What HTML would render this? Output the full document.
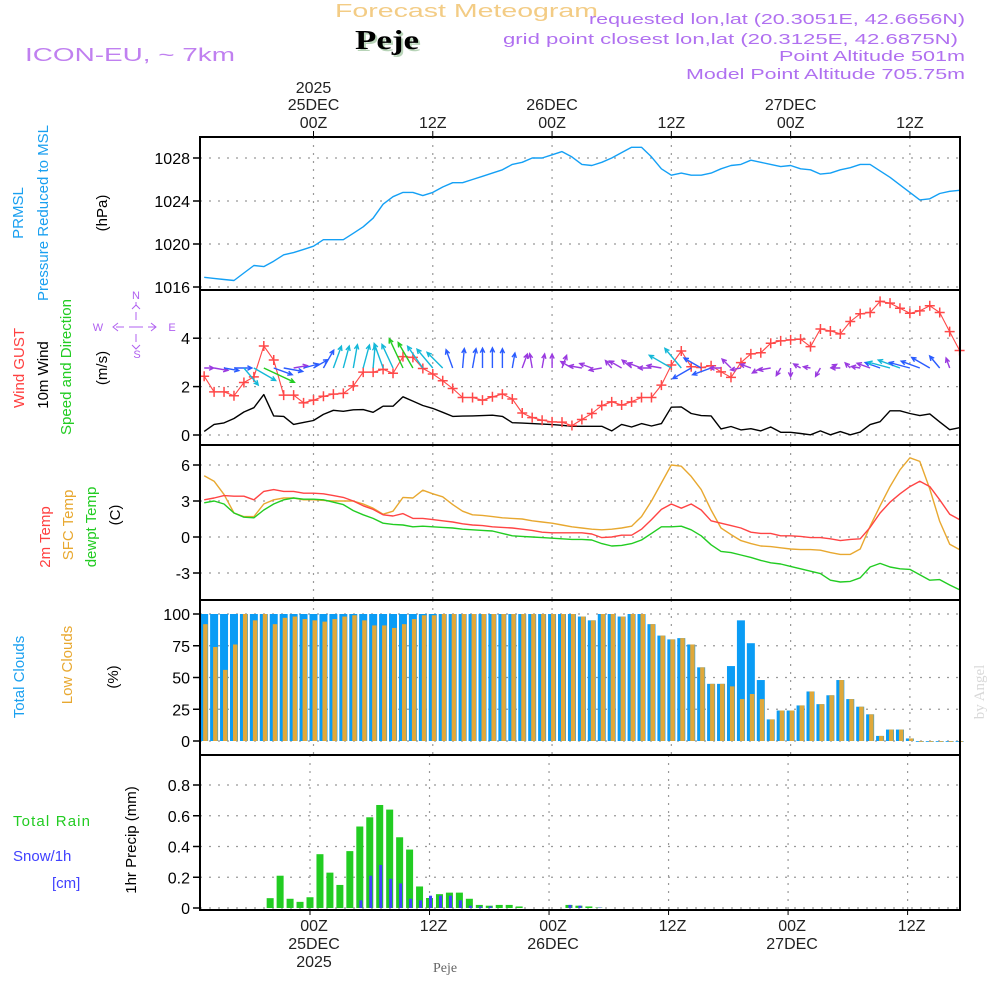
<!DOCTYPE html>
<html><head><meta charset="utf-8"><title>Forecast Meteogram Peje</title>
<style>
html,body{margin:0;padding:0;background:#fff;}
svg{display:block;font-family:"Liberation Sans",sans-serif;}
</style></head>
<body>
<svg id="chart" xmlns="http://www.w3.org/2000/svg" width="1000" height="1000" viewBox="0 0 1000 1000">
  <defs>
    <clipPath id="windClip"><rect x="201" y="291" width="758" height="153"/></clipPath>
  </defs>
  <g>
    <text x="335" y="17" font-size="18" fill="#f3cc85" textLength="263" lengthAdjust="spacingAndGlyphs">Forecast Meteogram</text>
    <text x="357" y="51" font-size="27" font-weight="bold" font-family="Liberation Serif,serif" fill="#b8d4b8" textLength="64" lengthAdjust="spacingAndGlyphs">Peje</text>
    <text x="355" y="49" font-size="27" font-weight="bold" font-family="Liberation Serif,serif" fill="#000" textLength="64" lengthAdjust="spacingAndGlyphs">Peje</text>
    <text x="25" y="61" font-size="18" fill="#c080f0" textLength="210" lengthAdjust="spacingAndGlyphs">ICON-EU, ~ 7km</text>
    <text x="589" y="24" font-size="15" fill="#b070f0" textLength="376" lengthAdjust="spacingAndGlyphs">requested lon,lat (20.3051E, 42.6656N)</text>
    <text x="503" y="44" font-size="15" fill="#b070f0" textLength="455" lengthAdjust="spacingAndGlyphs">grid point closest lon,lat (20.3125E, 42.6875N)</text>
    <text x="779" y="61" font-size="15" fill="#b070f0" textLength="186" lengthAdjust="spacingAndGlyphs">Point Altitude 501m</text>
    <text x="686" y="79" font-size="15" fill="#b070f0" textLength="279" lengthAdjust="spacingAndGlyphs">Model Point Altitude 705.75m</text>
    <text transform="translate(984,692) rotate(-90)" text-anchor="middle" font-size="15" font-family="Liberation Serif,serif" fill="#d8d8d8">by Angel</text>
    <text x="445" y="972" text-anchor="middle" font-size="14" font-family="Liberation Serif,serif" fill="#666">Peje</text>
  </g>
  <g font-size="15">
    <text transform="translate(23,213) rotate(-90)" text-anchor="middle" fill="#1aa0f0">PRMSL</text>
    <text transform="translate(48,213) rotate(-90)" text-anchor="middle" fill="#1aa0f0">Pressure Reduced to MSL</text>
    <text transform="translate(107,213) rotate(-90)" text-anchor="middle" fill="#000">(hPa)</text>
    <text transform="translate(24,368) rotate(-90)" text-anchor="middle" fill="#ff4040">Wind GUST</text>
    <text transform="translate(48,375) rotate(-90)" text-anchor="middle" fill="#000">10m Wind</text>
    <text transform="translate(71,367) rotate(-90)" text-anchor="middle" fill="#22cc22">Speed and Direction</text>
    <text transform="translate(107,368) rotate(-90)" text-anchor="middle" fill="#000">(m/s)</text>
    <text transform="translate(50,537) rotate(-90)" text-anchor="middle" fill="#ff4040">2m Temp</text>
    <text transform="translate(73,525) rotate(-90)" text-anchor="middle" fill="#e8a830">SFC Temp</text>
    <text transform="translate(96,527) rotate(-90)" text-anchor="middle" fill="#22cc22">dewpt Temp</text>
    <text transform="translate(120,515) rotate(-90)" text-anchor="middle" fill="#000">(C)</text>
    <text transform="translate(24,677) rotate(-90)" text-anchor="middle" fill="#1aa0f0">Total Clouds</text>
    <text transform="translate(72,665) rotate(-90)" text-anchor="middle" fill="#e8a830">Low Clouds</text>
    <text transform="translate(118,677) rotate(-90)" text-anchor="middle" fill="#000">(%)</text>
    <text transform="translate(136,840) rotate(-90)" text-anchor="middle" fill="#000">1hr Precip (mm)</text>
    <text x="13" y="826" fill="#22cc22" textLength="77" lengthAdjust="spacing">Total   Rain</text>
    <text x="13" y="861" fill="#4040ff">Snow/1h</text>
    <text x="52" y="888" fill="#4040ff">[cm]</text>
  </g>
  <g fill="#b060f0" font-size="11" text-anchor="middle">
    <text x="136" y="299">N</text>
    <text x="98" y="331">W</text>
    <text x="172" y="331">E</text>
    <text x="137" y="358">S</text>
    <path d="M118,323 L113,327 L118,331 M116,327 H124 M129,327 H143 M148,327 H156 M151,323 L156,327 L151,331 M136,302 V306 M132,309 L136,305 L140,309 M136,312 V320 M136,334 V342 M132,345 L136,349 L140,345" stroke="#b060f0" stroke-width="1" fill="none"/>
  </g>
  <g id="plots"></g>
</svg>
<script>
// ===== DATA (hourly, from hour -11 = 13Z 24DEC to hour 65 = 17Z 27DEC) =====
const startHour = -11;
const pressure = [1016.9,1016.8,1016.7,1016.6,1017.3,1018.0,1017.9,1018.4,1019.0,1019.2,1019.5,1019.8,1020.4,1020.4,1020.4,1021.0,1021.6,1022.4,1023.7,1024.4,1024.8,1024.8,1024.5,1024.8,1025.3,1025.7,1025.7,1026.0,1026.3,1026.6,1026.9,1027.4,1027.6,1028.0,1028.0,1028.3,1028.6,1028.1,1027.4,1027.3,1027.6,1028.0,1028.5,1029.0,1029.0,1028.1,1027.0,1026.4,1026.6,1026.4,1026.4,1026.6,1027.0,1027.3,1027.4,1027.8,1027.6,1027.4,1027.2,1027.3,1027.0,1026.9,1026.5,1026.6,1026.9,1027.1,1027.4,1027.4,1026.8,1026.2,1025.5,1024.8,1024.1,1024.2,1024.7,1024.9,1025.0];
const wind10 = [0.15,0.44,0.5,0.68,0.95,1.13,1.67,0.79,0.77,0.44,0.52,0.6,0.85,1.02,0.98,1.04,1.05,0.94,1.19,1.19,1.58,1.4,1.22,1.1,0.94,0.77,0.78,0.79,0.8,0.82,0.77,0.51,0.49,0.47,0.45,0.43,0.4,0.36,0.36,0.36,0.36,0.17,0.44,0.33,0.47,0.37,0.47,1.15,1.16,0.89,0.8,0.79,0.25,0.35,0.21,0.26,0.17,0.33,0.11,0.11,0.06,0.01,0.17,0.01,0.14,0.01,0.12,0.43,0.55,1.0,1.0,0.89,0.8,0.87,0.54,0.22,0.3];
const gust = [2.43,1.78,1.78,1.62,2.17,2.4,3.68,3.1,1.65,1.65,1.33,1.44,1.6,1.69,1.72,2.03,2.6,2.6,2.71,2.55,3.24,3.21,2.75,2.52,2.24,1.92,1.55,1.55,1.44,1.58,1.69,1.49,0.91,0.72,0.61,0.54,0.53,0.39,0.64,0.89,1.22,1.37,1.24,1.37,1.55,1.55,2.06,2.89,3.47,2.82,2.79,2.86,2.61,2.38,2.99,3.35,3.4,3.79,3.89,3.93,3.96,3.65,4.38,4.3,4.18,4.69,5.01,5.06,5.52,5.45,5.24,5.03,5.13,5.34,5.06,4.27,3.49];
const windDir = [90,100,100,90,140,120,115,110,100,80,75,60,30,20,15,10,15,5,-20,-25,-25,-30,-35,-40,-45,-20,5,10,0,0,0,10,20,-10,10,0,20,-60,-80,-70,-100,-40,-60,-50,-70,-90,-80,-60,-40,-120,-60,-110,-90,-45,-100,-70,-120,-100,-150,-180,-60,-80,-150,60,-90,-45,-80,-70,-70,-75,-70,-75,-70,-60,-40,-20,90];
const temp2m = [3.1,3.25,3.45,3.4,3.4,3.1,3.8,3.95,3.8,3.8,3.65,3.65,3.6,3.45,3.3,3.0,2.6,2.3,1.85,1.75,1.95,1.55,1.55,1.45,1.35,1.25,1.1,1.0,0.95,0.85,0.8,0.75,0.65,0.55,0.4,0.35,0.35,0.35,0.35,0.25,-0.05,0,0.15,0.15,0.65,1.45,2.3,2.75,2.4,2.75,2.25,1.35,1.15,0.95,0.75,0.4,0.3,0.3,0.1,0.1,0.05,-0.05,-0.05,-0.15,-0.3,-0.2,-0.15,0.8,2.0,2.9,3.6,4.2,4.65,4.2,3.1,1.9,1.45];
const sfcTemp = [5.1,4.65,3.55,2.0,1.7,1.7,2.75,3.1,3.25,3.25,3.1,3.1,3.05,3.0,3.0,3.0,2.75,2.4,1.9,2.15,3.3,3.25,3.9,3.6,3.35,2.7,2.15,1.85,1.8,1.7,1.6,1.55,1.5,1.35,1.25,1.15,1.0,0.85,0.75,0.65,0.6,0.65,0.75,0.9,1.7,3.0,4.5,6.0,5.9,5.05,3.95,2.25,0.75,0.2,-0.3,-0.55,-0.75,-0.8,-0.9,-1.0,-1.05,-1.05,-1.1,-1.3,-1.45,-1.45,-1.0,0.9,2.6,4.2,5.6,6.6,6.3,4.0,1.3,-0.6,-1.05];
const dewTemp = [2.85,3.0,2.75,2.0,1.65,1.6,2.25,2.75,3.1,3.25,3.15,3.15,3.1,2.9,2.7,2.2,1.85,1.55,1.15,1.05,1.0,0.85,0.9,0.85,0.8,0.75,0.65,0.6,0.55,0.5,0.3,0.1,0.05,0,-0.05,-0.1,-0.15,-0.2,-0.2,-0.25,-0.55,-0.75,-0.7,-0.55,-0.25,0.3,0.85,0.85,0.9,0.6,0.1,-0.65,-1.2,-1.3,-1.5,-1.7,-1.95,-2.15,-2.25,-2.45,-2.65,-2.85,-3.05,-3.6,-3.75,-3.7,-3.4,-2.5,-2.2,-2.5,-2.65,-2.7,-3.15,-3.6,-3.55,-4.0,-4.4];
const totalClouds = [100,100,100,100,100,100,100,100,100,100,100,100,100,100,100,100,100,100,100,100,100,100,100,100,100,100,100,100,100,100,100,100,100,100,100,100,100,100,98,95,100,100,98,100,100,92,83,80,81,76,58,45,45,59,95,77,48,17,24,24,28,39,29,36,48,33,27,21,4,9,9,2,0,0,0,0,0];
const lowClouds = [92,74,56,76,100,95,100,92,97,98,96,95,94,96,98,99,95,91,91,89,92,96,99,99,100,100,100,100,100,100,100,100,100,100,100,100,100,100,98,95,100,100,98,100,100,92,83,80,81,76,58,45,45,43,33,37,33,17,24,24,28,39,29,36,48,33,27,21,4,9,9,2,0,0,0,0,0];
const rain = [0,0,0,0,0,0,0,0.064,0.21,0.06,0.04,0.07,0.35,0.23,0.15,0.37,0.53,0.59,0.67,0.64,0.46,0.38,0.14,0.065,0.09,0.10,0.10,0.06,0.02,0.015,0.02,0.02,0.01,0,0,0,0,0.02,0.015,0.01,0.003,0,0,0,0,0,0,0,0,0,0,0,0,0,0,0,0,0,0,0,0,0,0,0,0,0,0,0,0,0,0,0,0,0,0,0,0];
const snow = [0,0,0,0,0,0,0,0,0,0,0,0,0,0,0,0,0.05,0.21,0.28,0.19,0.16,0.06,0.05,0.08,0.08,0.08,0.05,0.015,0.01,0.01,0,0,0,0,0,0,0,0.02,0.015,0,0.003,0,0,0,0,0,0,0,0,0,0,0,0,0,0,0,0,0,0,0,0,0,0,0,0,0,0,0,0,0,0,0,0,0,0,0,0];
const pressureTicks = [1016,1020,1024,1028];
const windTicks = [0,2,4];
const tempTicks = [-3,0,3,6];
const cloudTicks = [0,25,50,75,100];
const rainTicks = [0,0.2,0.4,0.6,0.8];
const rainTickLabels = ["0","0.2","0.4","0.6","0.8"];
const timeTickHours = [0,12,24,36,48,60];
const timeTickHour = ["00Z","12Z","00Z","12Z","00Z","12Z"];
const timeTickDay = ["25DEC","","26DEC","","27DEC",""];
const timeTickYear = ["2025","","","","",""];

// ===== AXES =====
const X0 = 200, X1 = 960;
function xOf(h){ return 313.5 + h*9.94; }
function xRain(h){ return 310 + h*9.96; }
function yP(v){ return 158 + (1028 - v)*10.75; }
function yW(v){ return 435 - v*24.2; }
function yT(v){ return 537 - v*12; }
function yC(v){ return 741 - v*1.27; }
function yR(v){ return 908 - v*153.75; }
const panels = [[137,290,'pressure-panel'],[290,445,'wind-panel'],[445,600,'temperature-panel'],[600,755,'cloud-panel'],[755,910,'precip-panel']];

const NS = 'http://www.w3.org/2000/svg';
const root = document.getElementById('plots');
function mk(tag, attrs, parent){
  const e = document.createElementNS(NS, tag);
  for (const k in attrs) e.setAttribute(k, attrs[k]);
  (parent || root).appendChild(e);
  return e;
}
function hourAt(i){ return startHour + i; }

panels.forEach(function(p, pi){
  const g = mk('g', {});
  
  
  timeTickHours.forEach(function(h){
    const xx = pi === 4 ? xRain(h) : xOf(h);
    const l = mk('line', {x1:xx, x2:xx, y1:p[0], y2:p[1], stroke:'#999', 'stroke-width':1.2, 'stroke-dasharray':'2,6'}, g);
    
    
  });
});
function hGrid(ticks, yf, labels, name){
  ticks.forEach(function(t, i){
    const yy = yf(t);
    const l = mk('line', {x1:X0, x2:X1, y1:yy, y2:yy, stroke:'#999', 'stroke-width':1.2, 'stroke-dasharray':'2,7'});
    
    
    const tk = mk('line', {x1:X0-7, x2:X0, y1:yy, y2:yy, stroke:'#000', 'stroke-width':1.5});
    
    
    const tx = mk('text', {x:X0-10, y:yy+6, 'text-anchor':'end', 'font-size':16, fill:'#000'});
    
    
    tx.textContent = labels ? labels[i] : String(t);
  });
}
hGrid(pressureTicks, yP, null, 'pressure-axis');
hGrid(windTicks, yW, null, 'wind-axis');
hGrid(tempTicks, yT, null, 'temp-axis');
hGrid(cloudTicks, yC, null, 'cloud-axis');
hGrid(rainTicks, yR, rainTickLabels, 'precip-axis');

timeTickHours.forEach(function(h, i){
  const xx = xOf(h);
  const tk = mk('line', {x1:xx, x2:xx, y1:131, y2:137, stroke:'#000', 'stroke-width':1});
  
  
  const lines = [[timeTickYear[i], 93], [timeTickDay[i], 110], [timeTickHour[i], 128]];
  lines.forEach(function(L){
    if (!L[0]) return;
    const t = mk('text', {x:xx, y:L[1], 'text-anchor':'middle', 'font-size':16, fill:'#222'});
    
    
    t.textContent = L[0];
  });
  const xb = xRain(h) + 4;
  const tb = mk('line', {x1:xRain(h), x2:xRain(h), y1:910, y2:915, stroke:'#000', 'stroke-width':1});
  
  
  const blines = [[timeTickHour[i], 931], [timeTickDay[i], 949], [timeTickYear[i], 967]];
  blines.forEach(function(L){
    if (!L[0]) return;
    const t = mk('text', {x:xb, y:L[1], 'text-anchor':'middle', 'font-size':16, fill:'#222'});
    
    
    t.textContent = L[0];
  });
});

function series(arr, yf, color, name, width){
  let d = '';
  arr.forEach(function(v, i){ d += (i ? 'L' : 'M') + xOf(hourAt(i)).toFixed(1) + ',' + yf(v).toFixed(1); });
  const p = mk('path', {d:d, fill:'none', stroke:color, 'stroke-width':width || 1.3, 'stroke-linejoin':'round'});
  
  
  return p;
}

totalClouds.forEach(function(v, i){
  const xx = xOf(hourAt(i));
  const r = mk('rect', {x:xx-4, y:yC(v), width:8, height:Math.max(yC(0)-yC(v), 0.8), fill:'#0a9cf5'});
  
  
});
lowClouds.forEach(function(v, i){
  const xx = xOf(hourAt(i));
  const r = mk('rect', {x:xx-1, y:yC(v), width:4.5, height:Math.max(yC(0)-yC(v), 0.8), fill:'#e0a83a'});
  
  
});

rain.forEach(function(v, i){
  if (v <= 0) return;
  const xx = xRain(hourAt(i));
  const r = mk('rect', {x:xx-3.5, y:yR(v), width:7, height:yR(0)-yR(v), fill:'#22cc22'});
  
  
});
snow.forEach(function(v, i){
  if (v <= 0) return;
  const xx = xRain(hourAt(i));
  const r = mk('rect', {x:xx-0.5, y:yR(v), width:3, height:yR(0)-yR(v), fill:'#4040ff'});
  
  
});

series(pressure, yP, '#14a0f5', 'pressure-line', 1.4);
series(wind10, yW, '#000', 'wind10-line', 1.4);
series(gust, yW, '#ff4848', 'gust-line', 1.1);
gust.forEach(function(v, i){
  const xx = xOf(hourAt(i)), yy = yW(v);
  const m = mk('path', {d:'M'+(xx-5)+','+yy+'H'+(xx+5)+'M'+xx+','+(yy-5)+'V'+(yy+5), stroke:'#ff4848', 'stroke-width':1.5});
  
  
});
series(sfcTemp, yT, '#e8a830', 'sfc-temp-line', 1.4);
series(temp2m, yT, '#ff4444', 'temp2m-line', 1.4);
series(dewTemp, yT, '#22cc22', 'dewpoint-line', 1.4);

function arrowColor(s){
  if (s < 0.5) return '#9a3ae0';
  if (s < 0.9) return '#2a5cff';
  if (s < 1.3) return '#14b8d8';
  return '#22cc22';
}
const arrowGroup = mk('g', {'clip-path':'url(#windClip)'});


windDir.forEach(function(dg, i){
  const s = wind10[i];
  const len = 7 + s*16;
  const a = dg*Math.PI/180;
  const bx = xOf(hourAt(i)), by = 368;
  const ex = bx + Math.sin(a)*len, ey = by - Math.cos(a)*len;
  const h1 = a + Math.PI - 0.45, h2 = a + Math.PI + 0.45;
  const d = 'M'+bx.toFixed(1)+','+by+'L'+ex.toFixed(1)+','+ey.toFixed(1)+
    'M'+(ex+Math.sin(h1)*5).toFixed(1)+','+(ey-Math.cos(h1)*5).toFixed(1)+'L'+ex.toFixed(1)+','+ey.toFixed(1)+
    'L'+(ex+Math.sin(h2)*5).toFixed(1)+','+(ey-Math.cos(h2)*5).toFixed(1);
  const p = mk('path', {d:d, fill:'none', stroke:arrowColor(s), 'stroke-width':1.4}, arrowGroup);
  
  
});

panels.forEach(function(p){
  const r = mk('rect', {x:X0, y:p[0], width:X1-X0, height:p[1]-p[0], fill:'none', stroke:'#000', 'stroke-width':2});
  
  
});
</script>
</body></html>
